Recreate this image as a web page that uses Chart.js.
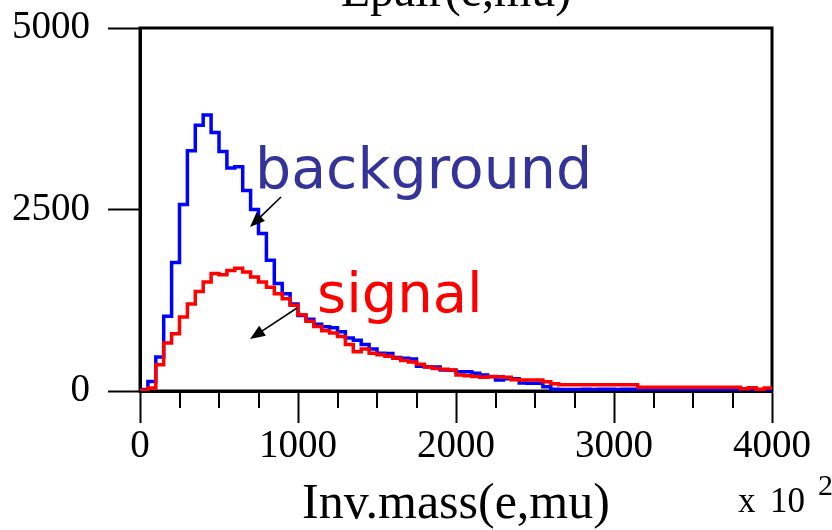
<!DOCTYPE html>
<html>
<head>
<meta charset="utf-8">
<script src="https://cdn.jsdelivr.net/npm/chart.js@4.4.0/dist/chart.umd.min.js"></script>
<style>
  html, body { margin: 0; padding: 0; background: #fff; }
  #wrap { width: 832px; height: 530px; }
</style>
</head>
<body>
<div id="wrap"><canvas id="c" width="832" height="530"></canvas></div>
<script>
// histogram bins: 80 bins of width 50 (x 10^2) from 0 to 4000
const binWidth = 50;
const background = [
  20, 130, 470, 1030, 1770, 2570, 3310, 3660, 3800, 3560,
  3300, 3070, 3090, 2760, 2500, 2170, 1800, 1480, 1340, 1200,
  1040, 990, 920, 885, 870, 816, 730, 700, 640, 580,
  520, 518, 460, 450, 440, 340, 335, 330, 290, 285,
  266, 266, 243, 220, 200, 150, 170, 170, 110, 106,
  106, 60, 25, 20, 20, 20, 25, 20, 25, 25,
  20, 25, 25, 15, 10, 10, 10, 8, 8, 8,
  5, 5, 5, 5, 5, 5, 5, 10, 10, 10
];
const signal = [
  10, 40, 360, 660, 790, 1020, 1200, 1370, 1500, 1620,
  1600, 1660, 1690, 1640, 1570, 1500, 1430, 1340, 1270, 1180,
  1050, 960, 890, 830, 800, 750, 640, 540, 580, 520,
  500, 480, 450, 420, 400, 370, 330, 310, 300, 290,
  220, 210, 200, 190, 195, 195, 190, 155, 150, 150,
  150, 128, 100, 85, 85, 85, 85, 85, 85, 85,
  85, 85, 85, 50, 50, 50, 50, 50, 50, 50,
  50, 50, 50, 50, 50, 50, 30, 45, 25, 40
];
const xTicks = [0, 1000, 2000, 3000, 4000];
const xMinorTicks = [250, 500, 750, 1250, 1500, 1750, 2250, 2500, 2750, 3250, 3500, 3750];
const yTicks = [0, 2500, 5000];

// step points at the left edge of each bin, plus the closing edge
function toSteps(values) {
  const pts = values.map((v, i) => ({ x: i * binWidth, y: v }));
  pts.push({ x: values.length * binWidth, y: values[values.length - 1] });
  return pts;
}

const serif = "'Liberation Serif', 'Times New Roman', serif";
const hand = "'DejaVu Sans', sans-serif";

function arrow(ctx, x1, y1, x2, y2) {
  const a = Math.atan2(y2 - y1, x2 - x1);
  const len = 15, w = 6;
  ctx.beginPath();
  ctx.moveTo(x1, y1);
  ctx.lineTo(x2 - Math.cos(a) * len * 0.8, y2 - Math.sin(a) * len * 0.8);
  ctx.stroke();
  ctx.beginPath();
  ctx.moveTo(x2, y2);
  ctx.lineTo(x2 - Math.cos(a) * len + Math.sin(a) * w, y2 - Math.sin(a) * len - Math.cos(a) * w);
  ctx.lineTo(x2 - Math.cos(a) * len - Math.sin(a) * w, y2 - Math.sin(a) * len + Math.cos(a) * w);
  ctx.closePath();
  ctx.fill();
}

const decorations = {
  id: "decorations",
  beforeDatasetsDraw(chart) {
    const { ctx, chartArea: a, scales } = chart;
    ctx.save();
    // minor ticks below the x axis
    ctx.strokeStyle = "#000";
    ctx.lineWidth = 2;
    xMinorTicks.forEach(v => {
      const px = Math.round(scales.x.getPixelForValue(v));
      ctx.beginPath();
      ctx.moveTo(px, a.bottom);
      ctx.lineTo(px, a.bottom + 17);
      ctx.stroke();
    });
    // frame
    ctx.lineWidth = 3;
    ctx.strokeRect(a.left, a.top, a.right - a.left, a.bottom - a.top);
    ctx.restore();
  },
  afterDraw(chart) {
    const { ctx, chartArea: a } = chart;
    const cx = (a.left + a.right) / 2;
    ctx.save();
    ctx.fillStyle = "#000";
    ctx.textBaseline = "alphabetic";
    // title, cut by the top edge
    ctx.textAlign = "center";
    ctx.font = "48px " + serif;
    ctx.fillText("Epair(e,mu)", cx, 6);
    // x axis title
    ctx.font = "50px " + serif;
    ctx.fillText("Inv.mass(e,mu)", cx, 518);
    // exponent
    ctx.textAlign = "left";
    ctx.font = "35px " + serif;
    ctx.fillText("x", 738, 512);
    ctx.fillText("10", 770, 512);
    ctx.font = "30px " + serif;
    ctx.fillText("2", 818, 495);
    // annotations
    ctx.font = "57px " + hand;
    ctx.fillStyle = "#333399";
    ctx.fillText("background", 255, 188);
    ctx.font = "56px " + hand;
    ctx.fillStyle = "#ff0000";
    ctx.fillText("signal", 317, 312);
    ctx.strokeStyle = "#000";
    ctx.fillStyle = "#000";
    ctx.lineWidth = 1.6;
    arrow(ctx, 281, 197, 250, 227);
    arrow(ctx, 297, 308, 250, 339);
    ctx.restore();
  }
};

new Chart(document.getElementById("c"), {
  type: "line",
  data: {
    datasets: [
      {
        label: "signal",
        data: toSteps(signal),
        borderColor: "#ff0000",
        borderWidth: 3.5,
        pointRadius: 0,
        stepped: "before",
        fill: false
      },
      {
        label: "background",
        data: toSteps(background),
        borderColor: "#0000ff",
        borderWidth: 3.5,
        pointRadius: 0,
        stepped: "before",
        fill: false
      }
    ]
  },
  options: {
    responsive: false,
    animation: false,
    layout: { padding: { left: 0, top: 28, right: 60, bottom: 0 } },
    plugins: {
      legend: { display: false },
      tooltip: { enabled: false },
      title: { display: false }
    },
    scales: {
      x: {
        type: "linear",
        min: 0,
        max: 4000,
        afterFit: s => { s.height = 139; s.paddingLeft = 0; s.paddingRight = 0; },
        afterBuildTicks: s => { s.ticks = xTicks.map(v => ({ value: v })); },
        grid: { drawOnChartArea: false, tickLength: 32, tickWidth: 2, tickColor: "#000" },
        border: { display: true, color: "#000", width: 3 },
        ticks: {
          maxRotation: 0,
          autoSkip: false,
          padding: 0,
          color: "#000",
          font: { family: serif, size: 39 },
          callback: v => String(v)
        }
      },
      y: {
        min: 0,
        max: 5000,
        afterFit: s => { s.width = 140; s.paddingTop = 0; s.paddingBottom = 0; },
        afterBuildTicks: s => { s.ticks = yTicks.map(v => ({ value: v })); },
        grid: { drawOnChartArea: false, tickLength: 32, tickWidth: 2, tickColor: "#000" },
        border: { display: true, color: "#000", width: 3 },
        ticks: {
          padding: 18,
          color: "#000",
          font: { family: serif, size: 39 },
          callback: v => String(v)
        }
      }
    }
  },
  plugins: [decorations]
});
</script>
</body>
</html>
